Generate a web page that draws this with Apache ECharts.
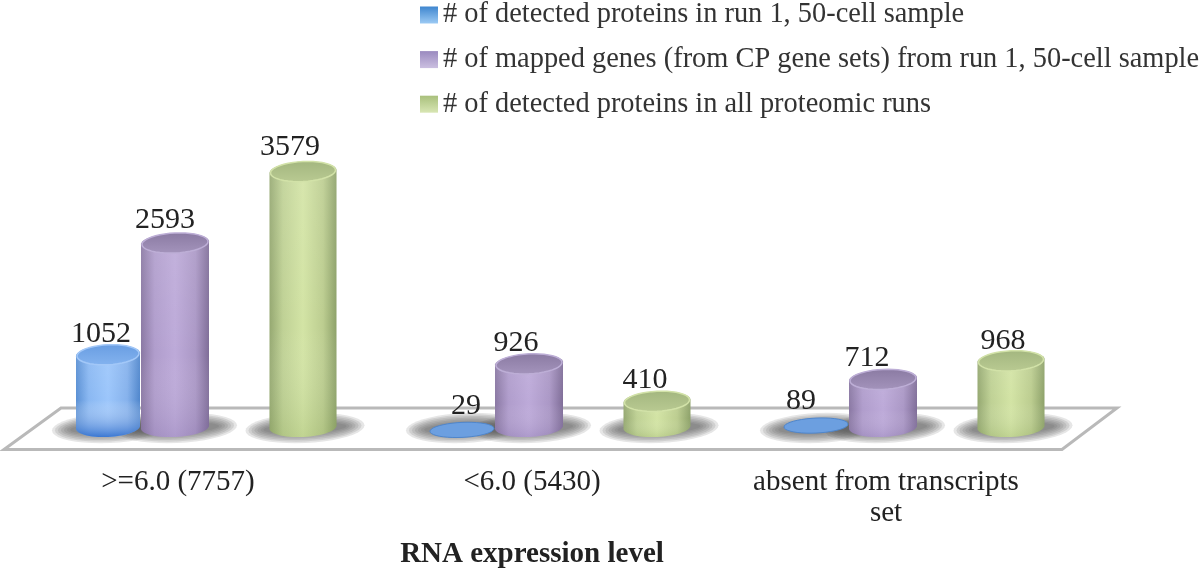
<!DOCTYPE html>
<html><head><meta charset="utf-8">
<style>html,body{margin:0;padding:0;background:#fff}#c{width:1200px;height:570px;filter:blur(0.6px)}</style>
<script src="https://cdn.jsdelivr.net/npm/echarts@6/dist/echarts.min.js"></script>
</head><body><div id="c"></div>
<script>
const categories = ['>=6.0 (7757)', '<6.0 (5430)', 'absent from transcripts\nset'];
const seriesNames = ['# of detected proteins in run 1, 50-cell sample',
  '# of mapped genes (from CP gene sets) from run 1, 50-cell sample',
  '# of detected proteins in all proteomic runs'];
const detectedRun1 = [1052, 29, 89];
const mappedGenes = [2593, 926, 712];
const detectedAll = [3579, 410, 968];
const axisTitle = 'RNA expression level';

const SERIF = '"Liberation Serif", serif';
const looks = [
 {off:-70, rx:32, ry:10, side:['#5a90d4','#8ab8f2','#9cc6fb','#86b2ec','#4f86cc'], tint:'rgba(35,100,200,0.8)', top:['#689de2','#84b3ef'], rim:'#a3c8f8', flat:'#6c9fe0', lab:[-7,4,-15], up:[-21,-23,-23], leg:['#3f86cf','#9ccaf4']},
 {off:-3,  rx:34, ry:10, side:['#8a78a3','#b09dcc','#bdaad9','#ab98c6','#7f6d98'], tint:'rgba(110,90,150,0.2)', top:['#8a7aa2','#a494bc'], rim:'#bdaed6', lab:[-10,-13,-16], up:[-23,-21,-21], leg:['#9a8abf','#cbbfe0']},
 {off:125, rx:33.5, ry:10, side:['#95a871','#bfd195','#d3e4a5','#bccd90','#8da169'], tint:'rgba(120,150,70,0.2)', top:['#a3b67f','#b9ca92'], rim:'#d2e2a8', lab:[-13,-12,-8], up:[-24,-21,-20], leg:['#a9c07c','#d8e6b4']}
];
const TILT = -0.045;

function ellPts(cx, cy, rx, ry, a0, a1, n) {
  const pts = [];
  for (let i = 0; i <= n; i++) {
    const t = a0 + (a1 - a0) * i / n;
    const x = rx * Math.cos(t), y = ry * Math.sin(t);
    pts.push([cx + x, cy + y + x * TILT]);
  }
  return pts;
}
function grad(c, horizontal) {
  return new echarts.graphic.LinearGradient(0, 0, horizontal ? 1 : 0, horizontal ? 0 : 1,
    c.map((col, i) => ({offset: c.length === 5 ? [0,0.2,0.5,0.8,1][i] : i / (c.length - 1), color: col})));
}
function shadowItem(look) {
  return function (params, api) {
    const p = api.coord([api.value(0), 0]);
    const cx = p[0] + look.off + 2, cy = p[1] - 3;
    const kids = [];
    for (let k = 0; k < 7; k++) {
      kids.push({type:'polygon', shape:{points: ellPts(cx, cy, look.rx + 26 - 3*k, 15 - 1.6*k, 0, Math.PI*2, 40)},
        style:{fill:'rgba(90,90,90,0.15)'}, silent:true});
    }
    return {type:'group', children:kids};
  };
}
function barItem(look) {
  return function (params, api) {
    const i = params.dataIndex;
    const v = api.value(1);
    const t = api.coord([api.value(0), v]);
    const z = api.coord([api.value(0), 0]);
    const cx = z[0] + look.off;
    const baseY = z[1] - 4;
    const topY = t[1];
    const botY = Math.max(baseY, topY);
    const kids = [];
    const ry = look.ry;
    const flat = botY - topY <= 6;
    if (!flat) {
      const body = ellPts(cx, botY, look.rx, ry, 0, Math.PI, 30)
        .concat(ellPts(cx, topY, look.rx, ry, Math.PI, Math.PI*2, 30));
      kids.push({type:'polygon', shape:{points:body}, style:{fill:grad(look.side, true)}});
      kids.push({type:'polygon', shape:{points:body}, style:{fill:new echarts.graphic.LinearGradient(0,0,0,1,[
        {offset:0,color:'rgba(255,255,255,0.1)'},{offset:0.6,color:'rgba(255,255,255,0)'},{offset:1,color:look.tint}])}});
      kids.push({type:'polygon', shape:{points: ellPts(cx, topY, look.rx - 1, ry, 0, Math.PI*2, 40)},
        style:{fill:grad(look.top, false), stroke:look.rim, lineWidth:1.5}});
    } else {
      kids.push({type:'polygon', shape:{points: ellPts(cx, topY + 1, look.rx, ry - 2.5, 0, Math.PI*2, 40)},
        style:{fill:look.flat, stroke:'#4f86cc', lineWidth:1}});
    }
    kids.push({type:'text', z2:50, style:{text:String(v), x:cx + look.lab[i], y:topY + look.up[i],
      fill:'#222', fontFamily:SERIF, fontSize:30, align:'center', verticalAlign:'middle'}});
    return {type:'group', children:kids};
  };
}
const values = [detectedRun1, mappedGenes, detectedAll];
const series = [];
values.forEach((vals, s) => {
  series.push({type:'custom', name:'shadow'+s, z:1, silent:true, renderItem:shadowItem(looks[s]),
    data:vals.map((v,i)=>[i,v]), encode:{x:0,y:1}});
});
values.forEach((vals, s) => {
  series.push({type:'custom', name:seriesNames[s], z:3+s, renderItem:barItem(looks[s]),
    itemStyle:{color:looks[s].side[2]},
    data:vals.map((v,i)=>[i,v]), encode:{x:0,y:1}});
});

const chart = echarts.init(document.getElementById('c'), null, {renderer:'canvas'});
chart.setOption({
  animation:false,
  backgroundColor:'#fff',
  legend:{
    left:415, top:-4, orient:'vertical', itemWidth:18, itemHeight:17, itemGap:16.6, selectedMode:false,
    textStyle:{fontFamily:SERIF, fontSize:28.4, color:'#333'},
    data:seriesNames.map((n,s)=>({name:n, icon:'rect', itemStyle:{color:grad(looks[s].leg,false)}}))
  },
  grid:{left:1, width:1062, top:141, height:290, outerBoundsMode:'none'},
  xAxis:{type:'category', data:categories,
    axisLine:{show:false}, axisTick:{show:false},
    axisLabel:{margin:36, fontFamily:SERIF, fontSize:29, color:'#222', lineHeight:31, interval:0},
    name:axisTitle, nameLocation:'middle', nameGap:109,
    nameTextStyle:{fontFamily:SERIF, fontSize:29, fontWeight:'bold', color:'#222'}},
  yAxis:{type:'value', min:0, max:4000, show:false},
  graphic:[{type:'polygon', z:0, silent:true,
    shape:{points:[[4,449.5],[61,408],[1117,408],[1062,449.5]]},
    style:{fill:'#fff', stroke:'#b9b9b9', lineWidth:3, lineJoin:'miter'}}],
  series
});
</script></body></html>
